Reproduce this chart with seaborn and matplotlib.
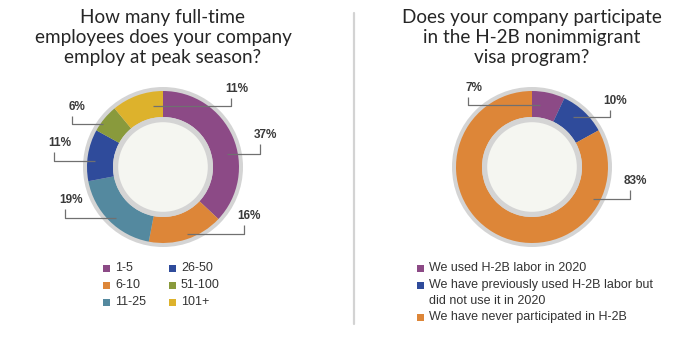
import matplotlib
matplotlib.use("Agg")
import matplotlib.pyplot as plt
from matplotlib.patches import Circle, Rectangle
from matplotlib.lines import Line2D
import seaborn as sns

# ---- data ----
size_labels = ["1-5", "6-10", "11-25", "26-50", "51-100", "101+"]
size_values = [37, 16, 19, 11, 6, 11]
size_colors = ["#8c4a86", "#dd8638", "#54899f", "#2f4b9b", "#899a3c", "#ddb22c"]

h2b_labels = ["We used H-2B labor in 2020",
              "We have previously used H-2B labor but\ndid not use it in 2020",
              "We have never participated in H-2B"]
h2b_values = [7, 10, 83]
h2b_colors = ["#8c4a86", "#2f4b9b", "#dd8638"]

left_title = ["How many full-time", "employees does your company", "employ at peak season?"]
right_title = ["Does your company participate", "in the H-2B nonimmigrant", "visa program?"]

# leader lines in donut units: (start x, start y, elbow x, elbow top y)
size_leaders = [(0.80, 0.16, 1.21, 0.29),
                (0.30, -0.84, 1.01, -0.72),
                (-0.59, -0.64, -1.22, -0.52),
                (-0.85, 0.075, -1.36, 0.19),
                (-0.75, 0.54, -1.14, 0.64),
                (-0.12, 0.76, 0.85, 0.86)]
h2b_leaders = [(0.10, 0.775, -0.80, 0.875),
               (0.51, 0.625, 0.97, 0.71),
               (0.76, -0.40, 1.22, -0.29)]

sns.set_theme(style="white")
plt.rcParams["font.family"] = ["Liberation Sans", "DejaVu Sans"]

W, H = 700, 338
fig = plt.figure(figsize=(7, 3.38), dpi=100)
fig.patch.set_facecolor("white")

PX = 80  # pixels per donut unit


def donut(cx, cy, values, colors, leaders):
    ax = fig.add_axes([(cx - 2 * PX) / W, (H - cy - 2 * PX) / H, 4 * PX / W, 4 * PX / H])
    ax.set_axis_off()
    ax.add_patch(Circle((0, 0), 1.0, facecolor="#d4d4d4", edgecolor="none", zorder=0))
    ax.pie(values, colors=colors, startangle=90, counterclock=False, radius=0.95,
           wedgeprops=dict(width=0.95 - 0.625, edgecolor="none", linewidth=0))
    ax.add_patch(Circle((0, 0), 0.625, facecolor="#d4d4d4", edgecolor="none", zorder=3))
    ax.add_patch(Circle((0, 0), 0.56, facecolor="#f5f6f1", edgecolor="none", zorder=4))
    for v, (sx, sy, ex, ey) in zip(values, leaders):
        ax.plot([sx, ex, ex], [sy, sy, ey], color="#707070", lw=0.9, zorder=5,
                solid_capstyle="butt")
        ax.text(ex + 0.07, ey + 0.11, f"{v}%", ha="center", va="center",
                fontsize=8.5, fontweight="bold", color="#3a3a3a", zorder=6)
    ax.set_xlim(-2, 2)
    ax.set_ylim(-2, 2)
    ax.set_aspect("equal")
    return ax


donut(163, 167, size_values, size_colors, size_leaders)
donut(532, 167, h2b_values, h2b_colors, h2b_leaders)

# titles
for lines, cx in [(left_title, 163), (right_title, 532)]:
    for i, line in enumerate(lines):
        fig.text(cx / W, 1 - (18 + 20 * i) / H, line, ha="center", va="center",
                 fontsize=13.6, family=["Lato", "DejaVu Sans"], fontweight="normal",
                 color="#262626")

# divider
fig.add_artist(Line2D([353.5 / W, 353.5 / W], [1 - 13 / H, 1 - 324 / H],
                      color="#d3d3d3", lw=1.6))

FS = 9.0


def legend_item(x, y, color, label):
    s = 7
    fig.add_artist(Rectangle((x / W, 1 - (y + s / 2) / H), s / W, s / H,
                             facecolor=color, edgecolor="none",
                             transform=fig.transFigure))
    fig.text((x + s + 5) / W, 1 - y / H, label, ha="left", va="center",
             fontsize=FS, color="#333333")


# left legend, two columns
rows = [268, 285, 302]
for i, (lab, col) in enumerate(zip(size_labels, size_colors)):
    x = 103 if i < 3 else 169
    legend_item(x, rows[i % 3], col, lab)

# right legend
legend_item(417, 268, h2b_colors[0], h2b_labels[0])
legend_item(417, 285, h2b_colors[1], h2b_labels[1].split("\n")[0])
fig.text(429 / W, 1 - 301 / H, h2b_labels[1].split("\n")[1], ha="left", va="center",
         fontsize=FS, color="#333333")
legend_item(417, 317, h2b_colors[2], h2b_labels[2])

fig.savefig("out.png", dpi=100, facecolor="white")
